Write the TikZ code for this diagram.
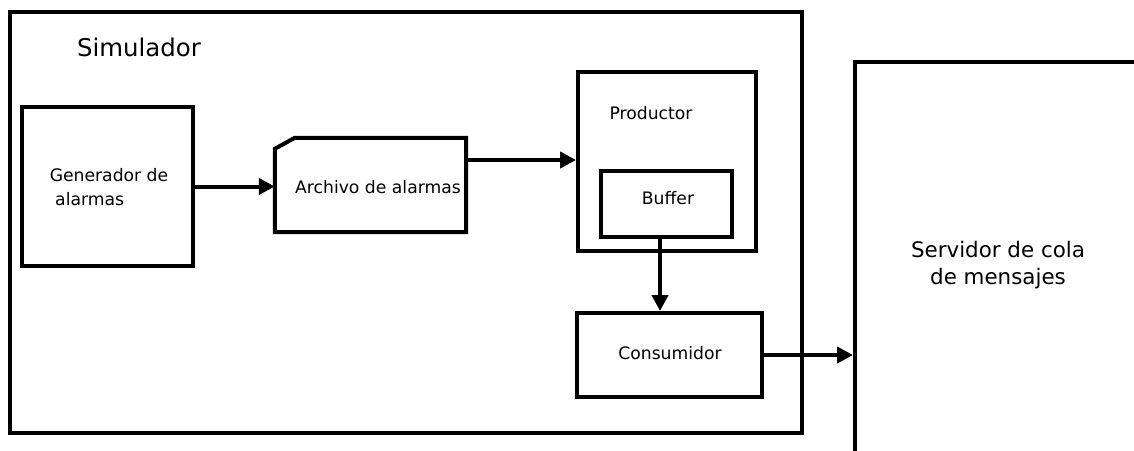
\documentclass[tikz,border=0pt]{standalone}
\usepackage{fontspec}
\setmainfont{DejaVu Sans}
\usetikzlibrary{arrows.meta}
\begin{document}
\begin{tikzpicture}[x=1pt,y=-1pt,
  box/.style={draw=black,line width=4pt,rectangle,inner sep=0pt},
  plain/.style={inner sep=0pt},
  txt/.style={font=\fontsize{17.2}{24}\selectfont,inner sep=0pt},
  arrow/.style={line width=4pt,-{Triangle[length=16pt,width=16pt]}}]
\useasboundingbox (0,0) rectangle (1134,450);
\fill[white] (0,0) rectangle (1134,450);

% simulator frame
\node[box,minimum width=792pt,minimum height=421pt] (sim) at (406,222.5) {};
\node[plain,font=\fontsize{24.4}{28}\selectfont] (simlabel) at (139,47) {Simulador};

% alarm generator
\node[box,minimum width=171pt,minimum height=159pt] (gen) at (107.5,186.5) {};
\node[txt,align=left] (gentext) at (109,187) {Generador de\\\ alarmas};

% alarm file (clipped top-left corner)
\node[plain,minimum width=191pt,minimum height=94pt] (archivo) at (370.5,185) {};
\draw[line width=4pt,line join=miter]
  ([yshift=-11pt]archivo.north west) -- ([xshift=20pt]archivo.north west)
  -- (archivo.north east) -- (archivo.south east) -- (archivo.south west) -- cycle;
\node[txt] (archtext) at (378,187) {Archivo de alarmas};

% producer with buffer
\node[box,minimum width=178pt,minimum height=179pt] (prod) at (667,161.5) {};
\node[txt] (prodtext) at (651,113) {Productor};
\node[box,minimum width=131pt,minimum height=66pt] (buffer) at (666.5,204) {};
\node[txt] (buftext) at (668,198) {Buffer};

% consumer
\node[box,minimum width=185pt,minimum height=84pt] (cons) at (669.5,355) {};
\node[txt] (constext) at (670,353) {Consumidor};

% message queue server (runs past the right and bottom edges)
\node[box,minimum width=290pt,minimum height=398pt] (server) at (1000,261) {};
\node[plain,align=center,font=\fontsize{21.4}{27}\selectfont] (servtext) at (998,265) {Servidor de cola\\de mensajes};

% connectors
\draw[arrow] (gen.east) -- (gen.east -| archivo.west);
\draw[arrow] ([yshift=25pt]archivo.east) -- ([yshift=25pt]archivo.east -| prod.west);
\draw[arrow] ([xshift=-6.5pt]buffer.south) -- ([xshift=-6.5pt]buffer.south |- cons.north);
\draw[arrow] (cons.east) -- (cons.east -| server.west);
\end{tikzpicture}
\end{document}
